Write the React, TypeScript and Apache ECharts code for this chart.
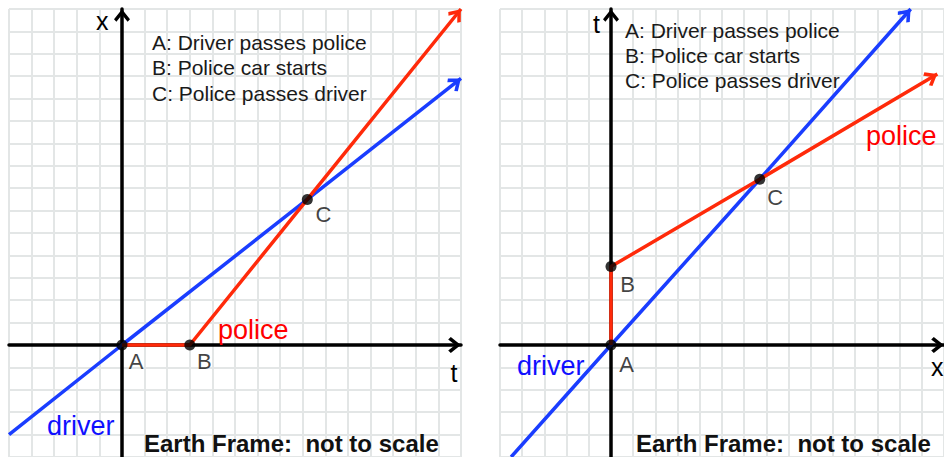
import React, { useEffect, useRef } from 'react';
import * as echarts from 'echarts';

// Left panel (Earth frame, x vs t) — units are grid cells
const leftDriver = [[-5, -4], [0, 0], [8.2, 6.5], [15, 11.9]];
const leftPolice = [[0, 0], [3, 0], [8.2, 6.5], [15, 15]];
const leftEvents = [[0, 0], [3, 0], [8.2, 6.5]];

// Right panel (t vs x)
const rightDriver = [[-4.5, -5], [0, 0], [6.7, 7.4], [13.5, 15]];
const rightPolice = [[0, 0], [0, 3.5], [6.7, 7.4], [14.7, 12.1]];
const rightEvents = [[0, 0], [0, 3.5], [6.7, 7.4]];

const eventNames = ['A', 'B', 'C'];
const legendLines = ['A: Driver passes police', 'B: Police car starts', 'C: Police passes driver'];
const footer = 'Earth Frame:  not to scale';

const FONT = '"Liberation Sans", Arial, Helvetica, sans-serif';
const BLUE = '#1a3dff';
const RED = '#ff2a0a';
const ARROW = 'path://M8 0L8.01 0Z M8 13L16 23L13.6 25.6L8 18.6L2.4 25.6L0 23Z';

const leftLabelOffsets = [[14, 16], [14.5, 16], [16, 15]];
const rightLabelOffsets = [[15.5, 19.5], [16.5, 18], [15.5, 18.5]];

function withArrow(points: number[][]) {
  const n = points.length;
  const [x1, y1] = points[n - 2];
  const [x2, y2] = points[n - 1];
  const angle = (Math.atan2(y2 - y1, x2 - x1) * 180) / Math.PI;
  return points.map((p, i) =>
    i === n - 1
      ? { value: p, symbol: ARROW, symbolSize: [16, 26], symbolRotate: angle - 90 }
      : { value: p, symbol: 'none' }
  );
}

function axis(gridIndex: number) {
  return {
    type: 'value',
    gridIndex,
    min: -5,
    max: 15,
    interval: 1,
    axisLine: {
      show: true,
      onZero: true,
      symbol: ['none', ARROW],
      symbolSize: [16, 26],
      lineStyle: { color: '#000', width: 3.5 },
    },
    axisTick: { show: false },
    axisLabel: { show: false },
    splitLine: { show: true, lineStyle: { color: '#e3e6e6', width: 2 } },
  };
}

function lineSeries(idx: number, data: number[][], color: string) {
  return {
    type: 'line',
    xAxisIndex: idx,
    yAxisIndex: idx,
    data: withArrow(data),
    showSymbol: true,
    clip: false,
    z: 3,
    lineStyle: { color, width: 3.5 },
    itemStyle: { color, borderWidth: 0 },
  };
}

function eventSeries(idx: number, data: number[][], offsets: number[][]) {
  return {
    type: 'scatter',
    xAxisIndex: idx,
    yAxisIndex: idx,
    symbolSize: 11,
    z: 5,
    clip: false,
    itemStyle: { color: '#000' },
    data: data.map((p, i) => ({
      value: p,
      label: {
        show: true,
        formatter: eventNames[i],
        position: 'inside',
        offset: offsets[i],
        fontSize: 22,
        color: '#111',
        fontFamily: FONT,
      },
    })),
  };
}

function txt(text: string, x: number, y: number, fontSize: number, fill: string, bold = false) {
  return {
    type: 'text',
    x,
    y,
    z: 10,
    style: {
      text,
      fontSize,
      fontFamily: FONT,
      fontWeight: bold ? 'bold' : 'normal',
      fill,
      align: 'left',
      verticalAlign: 'middle',
    },
  };
}

export default function App() {
  const ref = useRef<HTMLDivElement>(null);
  useEffect(() => {
    if (!ref.current) return;
    const chart = echarts.init(ref.current, null, { renderer: 'svg' });
    const graphics: any[] = [];
    legendLines.forEach((t, i) => {
      graphics.push(txt(t, 152, 42 + i * 25.5, 21, '#1a1a1a'));
      graphics.push(txt(t, 625, 30 + i * 25, 21, '#1a1a1a'));
    });
    graphics.push(txt(footer, 144, 443.5, 24, '#111', true));
    graphics.push(txt(footer, 636, 443.5, 24, '#111', true));
    graphics.push(txt('police', 218, 330, 27, '#ff0000'));
    graphics.push(txt('police', 866, 135.5, 27, '#ff0000'));
    graphics.push(txt('driver', 47, 425.5, 27, '#1010ff'));
    graphics.push(txt('driver', 517, 365.5, 27, '#1010ff'));
    graphics.push(txt('x', 96, 21, 25, '#000'));
    graphics.push(txt('t', 450.5, 373, 25, '#000'));
    graphics.push(txt('t', 593, 24, 25, '#000'));
    graphics.push(txt('x', 931, 367, 25, '#000'));

    chart.setOption({
      animation: false,
      backgroundColor: '#fff',
      grid: [
        { left: 9, top: 9, width: 452, height: 452, show: true, borderColor: '#c5d3d3', borderWidth: 1, backgroundColor: '#fff' },
        { left: 500, top: 9, width: 452, height: 452, show: true, borderColor: '#c5d3d3', borderWidth: 1, backgroundColor: '#fff' },
      ],
      xAxis: [axis(0), axis(1)],
      yAxis: [axis(0), axis(1)],
      series: [
        lineSeries(0, leftDriver, BLUE),
        lineSeries(0, leftPolice, RED),
        eventSeries(0, leftEvents, leftLabelOffsets),
        lineSeries(1, rightDriver, BLUE),
        lineSeries(1, rightPolice, RED),
        eventSeries(1, rightEvents, rightLabelOffsets),
      ],
      graphic: graphics,
    });
    return () => chart.dispose();
  }, []);
  return (
    <div
      ref={ref}
      style={{ position: 'absolute', left: 0, top: 0, width: 944, height: 457 }}
    />
  );
}
